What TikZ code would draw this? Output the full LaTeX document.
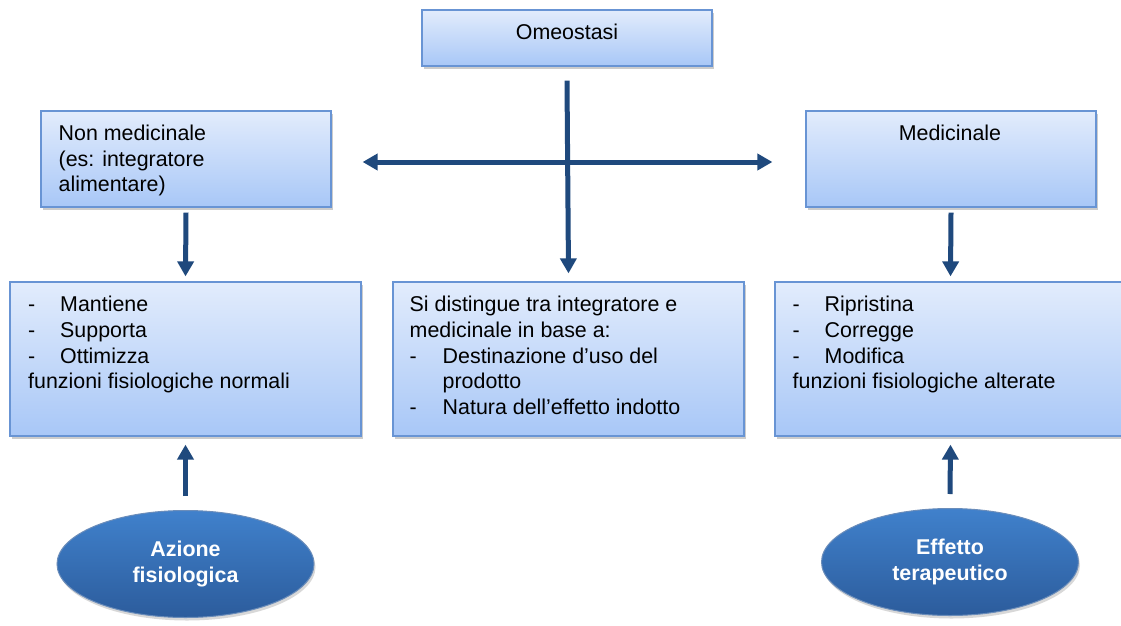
\documentclass[tikz,border=0pt]{standalone}
\usepackage{fontspec}
\setmainfont{Liberation Sans}
\usetikzlibrary{arrows.meta,shapes.geometric,shadows}
\definecolor{boxtop}{RGB}{226,236,252}
\definecolor{boxbot}{RGB}{168,199,247}
\definecolor{boxline}{RGB}{104,148,212}
\definecolor{ovaltop}{RGB}{64,129,204}
\definecolor{ovalbot}{RGB}{44,92,156}
\definecolor{arrowblue}{RGB}{31,73,125}
\newcommand{\dash}[1]{\makebox[#1][l]{-}}

\begin{document}
\begin{tikzpicture}[x=1pt,y=-1pt,
  box/.style={rectangle,draw=boxline,line width=1.2pt,top color=boxtop,bottom color=boxbot,
    drop shadow={opacity=0.4,shadow xshift=1.5pt,shadow yshift=-3pt}},
  txt/.style={inner sep=0pt,align=left,font=\fontsize{21.4}{25.7}\selectfont},
  oval/.style={ellipse,draw=ovalbot!70!white,line width=1pt,top color=ovaltop,bottom color=ovalbot,
    minimum width=257pt,minimum height=107pt,inner sep=0pt,align=center,text=white,
    font=\bfseries\fontsize{21.4}{25.7}\selectfont,
    drop shadow={opacity=0.3,shadow xshift=1.5pt,shadow yshift=-3pt}},
  arw/.style={draw=arrowblue,line width=5pt,-{Triangle[width=16pt,length=15pt]}}]
\useasboundingbox (0,0) rectangle (1121,626);
\fill[white] (0,0) rectangle (1121,626);

\node[box,minimum width=290pt,minimum height=56pt] (omeo) at (567,38) {};
\node[box,minimum width=290pt,minimum height=96pt] (nonmed) at (186,159) {};
\node[box,minimum width=290pt,minimum height=96pt] (med) at (951,159) {};
\node[box,minimum width=351pt,minimum height=154pt] (lbox) at (185.5,359) {};
\node[box,minimum width=351pt,minimum height=154pt] (mid) at (568.5,359) {};
\node[box,minimum width=351pt,minimum height=154pt] (rbox) at (950.5,359) {};
\node[oval] (azione) at (185.5,564) {Azione\\fisiologica};
\node[oval] (effetto) at (950,562) {Effetto\\terapeutico};

\node[txt,anchor=base] (omeotext) at (567,40) {Omeostasi};
\node[txt,anchor=north west] (nonmedtext) at (58.5,124.7) {Non medicinale\\(es: integratore\\alimentare)};
\node[txt,anchor=base] (medtext) at (950,140) {Medicinale};
\node[txt,anchor=north west] (ltext) at (28,296) {\dash{32pt}Mantiene\\\dash{32pt}Supporta\\\dash{32pt}Ottimizza\\funzioni fisiologiche normali};
\node[txt,anchor=north west] (midtext) at (409.5,296) {Si distingue tra integratore e\\medicinale in base a:\\\dash{33pt}Destinazione d’uso del\\\hspace*{33pt}prodotto\\\dash{33pt}Natura dell’effetto indotto};
\node[txt,anchor=north west] (rtext) at (792.5,296) {\dash{32pt}Ripristina\\\dash{32pt}Corregge\\\dash{32pt}Modifica\\funzioni fisiologiche alterate};

\draw[arw] ([yshift=-14pt]omeo.south) -- ([yshift=8pt]mid.north);
\draw[arw,{Triangle[width=16pt,length=15pt]}-{Triangle[width=16pt,length=15pt]}]
  ([xshift=31pt,yshift=-3pt]nonmed.east) -- ([xshift=-33pt,yshift=-3pt]med.west);
\foreach \from/\to in {nonmed/lbox,med/rbox}
  \draw[arw] ([yshift=-5pt]\from.south) -- ([yshift=5pt]\to.north);
\foreach \from/\to in {azione/lbox,effetto/rbox}
  \draw[arw] ([yshift=14pt]\from.north) -- ([yshift=-8pt]\to.south);
\end{tikzpicture}
\end{document}
